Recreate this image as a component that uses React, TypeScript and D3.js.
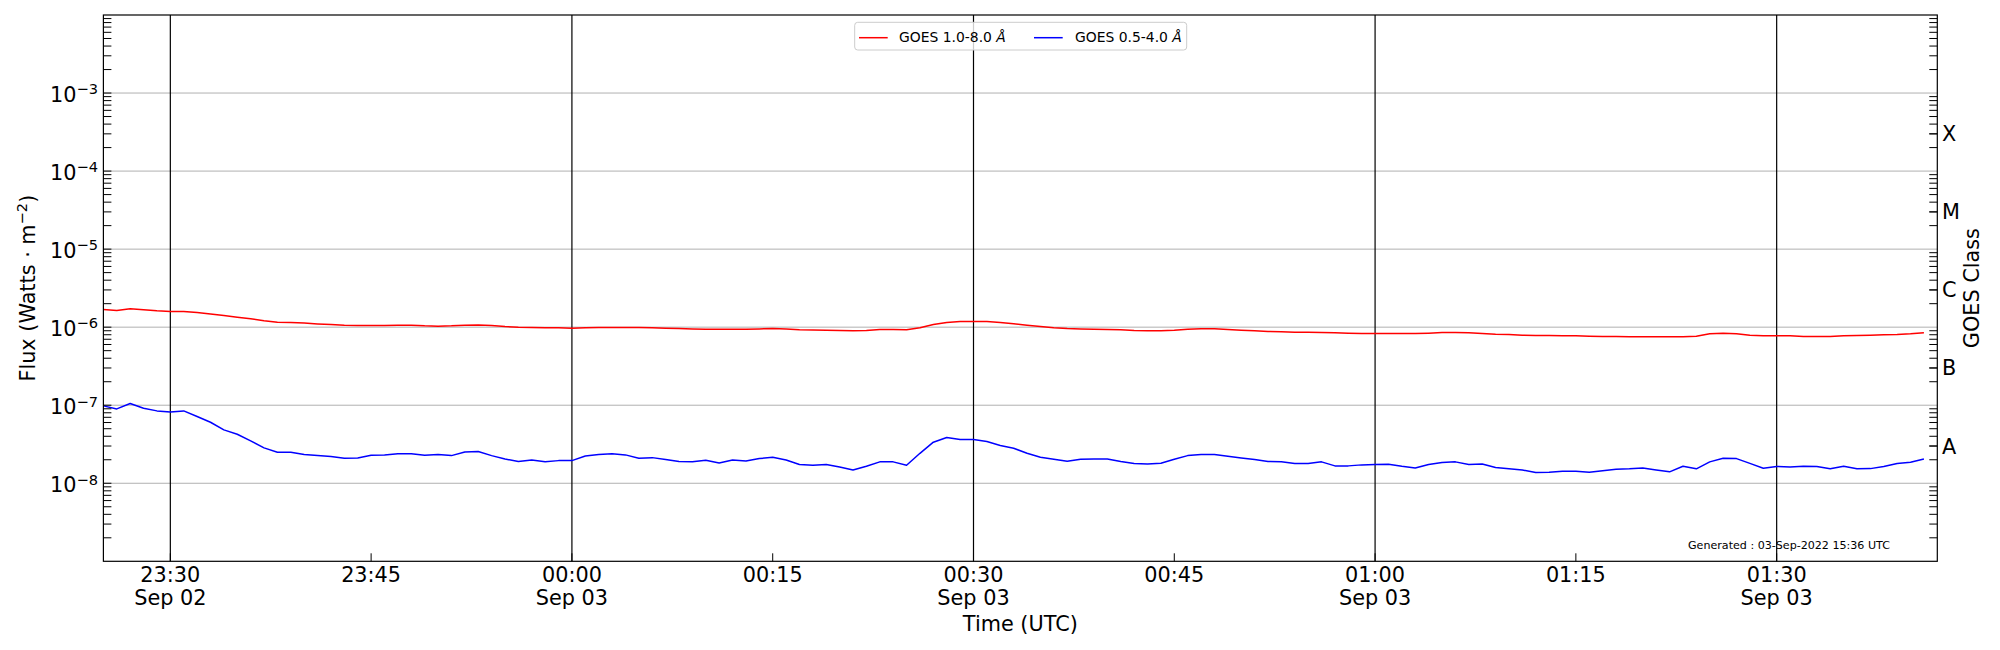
import React from "react";
import * as d3 from "d3";

// ---- data (1-minute GOES XRS averages, starting 2022-09-02 23:25 UTC) ----
const START_ISO = "2022-09-02T23:25:00Z";
const END_ISO = "2022-09-03T01:42:00Z";
const STEP_MIN = 1;

// GOES 1.0-8.0 Å, in units of 1e-6 W m^-2
const longFlux = [
  1.68, 1.64, 1.72, 1.67, 1.62, 1.59, 1.59, 1.54, 1.48, 1.41,
  1.34, 1.28, 1.21, 1.16, 1.15, 1.13, 1.10, 1.08, 1.06, 1.05,
  1.05, 1.05, 1.06, 1.06, 1.04, 1.03, 1.04, 1.06, 1.07, 1.05,
  1.02, 1.00, 0.99, 0.98, 0.98, 0.97, 0.98, 0.99, 0.99, 0.99,
  0.99, 0.98, 0.97, 0.96, 0.95, 0.94, 0.94, 0.94, 0.94, 0.95,
  0.96, 0.95, 0.93, 0.92, 0.915, 0.906, 0.897, 0.906, 0.934, 0.934,
  0.924, 0.981, 1.08, 1.15, 1.18, 1.18, 1.18, 1.15, 1.11, 1.06,
  1.02, 0.98, 0.96, 0.95, 0.943, 0.934, 0.924, 0.906, 0.897, 0.897,
  0.915, 0.943, 0.952, 0.952, 0.934, 0.915, 0.897, 0.880, 0.871, 0.863,
  0.863, 0.854, 0.846, 0.838, 0.829, 0.829, 0.829, 0.829, 0.829, 0.838,
  0.854, 0.854, 0.846, 0.829, 0.813, 0.805, 0.790, 0.782, 0.782, 0.774,
  0.774, 0.767, 0.759, 0.759, 0.752, 0.752, 0.752, 0.752, 0.752, 0.767,
  0.821, 0.838, 0.821, 0.790, 0.774, 0.774, 0.774, 0.759, 0.759, 0.759,
  0.774, 0.782, 0.790, 0.797, 0.805, 0.821, 0.846,
];
const LONG_UNIT = 1e-6;

// GOES 0.5-4.0 Å, in units of 1e-8 W m^-2
const shortFlux = [
  9.81, 8.97, 10.5, 9.15, 8.46, 8.21, 8.46, 7.16, 6.05, 4.83,
  4.25, 3.49, 2.84, 2.50, 2.50, 2.33, 2.26, 2.20, 2.09, 2.11,
  2.29, 2.31, 2.38, 2.38, 2.29, 2.33, 2.26, 2.52, 2.55, 2.26,
  2.05, 1.90, 1.99, 1.88, 1.95, 1.95, 2.24, 2.33, 2.38, 2.31,
  2.09, 2.13, 2.01, 1.90, 1.88, 1.97, 1.82, 1.99, 1.93, 2.07,
  2.15, 1.99, 1.74, 1.70, 1.74, 1.62, 1.48, 1.65, 1.88, 1.88,
  1.70, 2.42, 3.36, 3.85, 3.63, 3.63, 3.42, 3.04, 2.81, 2.42,
  2.15, 2.03, 1.91, 2.03, 2.05, 2.05, 1.90, 1.79, 1.77, 1.80,
  2.03, 2.26, 2.33, 2.33, 2.22, 2.11, 2.01, 1.90, 1.88, 1.79,
  1.79, 1.88, 1.67, 1.67, 1.72, 1.74, 1.75, 1.65, 1.57, 1.74,
  1.84, 1.88, 1.74, 1.77, 1.59, 1.53, 1.48, 1.37, 1.38, 1.43,
  1.43, 1.38, 1.45, 1.51, 1.53, 1.57, 1.48, 1.40, 1.65, 1.53,
  1.88, 2.09, 2.07, 1.80, 1.56, 1.64, 1.62, 1.65, 1.64, 1.53,
  1.65, 1.53, 1.54, 1.64, 1.79, 1.86, 2.05,
];
const SHORT_UNIT = 1e-8;

const yDomain = [1e-9, 1e-2];
const decadeExps = [-8, -7, -6, -5, -4, -3];
const goesClasses = ["A", "B", "C", "M", "X"];
const goesClassValues = [3e-8, 3e-7, 3e-6, 3e-5, 3e-4];
const seriesLabels = ["GOES 1.0-8.0 ", "GOES 0.5-4.0 "];
const seriesColors = ["#ff0000", "#0000ff"];
const generatedText = "Generated : 03-Sep-2022 15:36 UTC";

// ---- layout ----
const W = 2000;
const H = 650;
const L = 103.4;
const R = 1937.3;
const T = 15;
const B = 561.3;
const TICK = 8;
const FONT = "DejaVu Sans, sans-serif";
const FS = 20.8;
const FS_SUP = 14.6;
const FS_LEG = 13.9;
const FS_NOTE = 11.1;

export default function App() {
  const start = new Date(START_ISO);
  const end = new Date(END_ISO);
  const x = d3.scaleUtc().domain([start, end]).range([L, R]);
  const y = d3.scaleLog().domain(yDomain).range([B, T]);

  const times = longFlux.map((_, i) => d3.utcMinute.offset(start, i * STEP_MIN));
  const longPts = longFlux.map((v, i) => [times[i], v * LONG_UNIT] as [Date, number]);
  const shortPts = shortFlux.map((v, i) => [times[i], v * SHORT_UNIT] as [Date, number]);

  const line = d3
    .line<[Date, number]>()
    .x((d) => x(d[0]))
    .y((d) => y(d[1]));

  const xTicks = x.ticks(d3.utcMinute.every(15) as any);
  const majorLines = xTicks.filter((t) => t.getUTCMinutes() % 30 === 0);
  const fmtHM = d3.utcFormat("%H:%M");
  const fmtDay = d3.utcFormat("%b %d");

  const minorVals: number[] = [];
  for (let e = -9; e <= -3; e++) {
    for (let k = 2; k <= 9; k++) minorVals.push(k * Math.pow(10, e));
  }

  return (
    <svg
      width={W}
      height={H}
      style={{ position: "absolute", left: 0, top: 0, display: "block", background: "#fff" }}
      fontFamily={FONT}
    >
      {/* horizontal grid */}
      {decadeExps.map((e) => (
        <line key={"g" + e} x1={L} x2={R} y1={y(Math.pow(10, e))} y2={y(Math.pow(10, e))} stroke="#b0b0b0" strokeWidth={1} />
      ))}
      {/* vertical black lines */}
      {majorLines.map((t) => (
        <line key={"v" + t.getTime()} x1={x(t)} x2={x(t)} y1={T} y2={B} stroke="#000" strokeWidth={1.2} />
      ))}

      {/* data */}
      <path d={line(longPts) || ""} fill="none" stroke={seriesColors[0]} strokeWidth={1.5} strokeLinejoin="round" />
      <path d={line(shortPts) || ""} fill="none" stroke={seriesColors[1]} strokeWidth={1.5} strokeLinejoin="round" />

      {/* left ticks */}
      {decadeExps.map((e) => (
        <line key={"lt" + e} x1={L} x2={L + TICK} y1={y(Math.pow(10, e))} y2={y(Math.pow(10, e))} stroke="#000" strokeWidth={1} />
      ))}
      {minorVals.map((v, i) => (
        <line key={"lm" + i} x1={L} x2={L + TICK} y1={y(v)} y2={y(v)} stroke="#000" strokeWidth={1} />
      ))}
      {/* right ticks */}
      {minorVals.map((v, i) => (
        <line key={"rm" + i} x1={R - TICK} x2={R} y1={y(v)} y2={y(v)} stroke="#000" strokeWidth={1} />
      ))}
      {goesClassValues.map((v, i) => (
        <line key={"rt" + i} x1={R - TICK} x2={R} y1={y(v)} y2={y(v)} stroke="#000" strokeWidth={1} />
      ))}
      {/* bottom ticks */}
      {xTicks.map((t) => (
        <line key={"bt" + t.getTime()} x1={x(t)} x2={x(t)} y1={B - TICK} y2={B} stroke="#000" strokeWidth={1} />
      ))}

      {/* frame */}
      <rect x={L} y={T} width={R - L} height={B - T} fill="none" stroke="#000" strokeWidth={1.2} />

      {/* left tick labels */}
      {decadeExps.map((e) => (
        <text key={"ll" + e} x={98} y={y(Math.pow(10, e)) + 8.6} textAnchor="end" fontSize={FS} fill="#000">
          10
          <tspan dy={-7.3} fontSize={FS_SUP}>{"\u2212" + Math.abs(e)}</tspan>
        </text>
      ))}

      {/* right class labels */}
      {goesClasses.map((c, i) => (
        <text key={"cl" + c} x={1942} y={y(goesClassValues[i]) + 7.5} fontSize={FS} fill="#000">
          {c}
        </text>
      ))}

      {/* x tick labels */}
      {xTicks.map((t) => (
        <g key={"xl" + t.getTime()}>
          <text x={x(t)} y={582} textAnchor="middle" fontSize={FS} fill="#000">
            {fmtHM(t)}
          </text>
          {t.getUTCMinutes() % 30 === 0 && (
            <text x={x(t)} y={604.5} textAnchor="middle" fontSize={FS} fill="#000">
              {fmtDay(t)}
            </text>
          )}
        </g>
      ))}

      {/* axis titles */}
      <text x={(L + R) / 2} y={631} textAnchor="middle" fontSize={FS} fill="#000">
        Time (UTC)
      </text>
      <text transform={`translate(35,${(T + B) / 2}) rotate(-90)`} textAnchor="middle" fontSize={FS} fill="#000">
        Flux (Watts · m
        <tspan dy={-8} fontSize={FS_SUP}>{"\u22122"}</tspan>
        <tspan dy={8}>)</tspan>
      </text>
      <text transform={`translate(1979,${(T + B) / 2}) rotate(-90)`} textAnchor="middle" fontSize={FS} fill="#000">
        GOES Class
      </text>

      {/* legend */}
      <rect x={854.7} y={22.3} width={332} height={27.7} rx={3} fill="#fff" fillOpacity={0.8} stroke="#cccccc" strokeWidth={1} />
      <line x1={859} x2={887.7} y1={37.7} y2={37.7} stroke={seriesColors[0]} strokeWidth={1.5} />
      <text x={899} y={42.3} fontSize={FS_LEG} fill="#000">
        {seriesLabels[0]}
        <tspan fontStyle="italic">Å</tspan>
      </text>
      <line x1={1034} x2={1062.7} y1={37.7} y2={37.7} stroke={seriesColors[1]} strokeWidth={1.5} />
      <text x={1075} y={42.3} fontSize={FS_LEG} fill="#000">
        {seriesLabels[1]}
        <tspan fontStyle="italic">Å</tspan>
      </text>

      {/* generated note */}
      <text x={1688} y={548.5} fontSize={FS_NOTE} fill="#000">
        {generatedText}
      </text>
    </svg>
  );
}
